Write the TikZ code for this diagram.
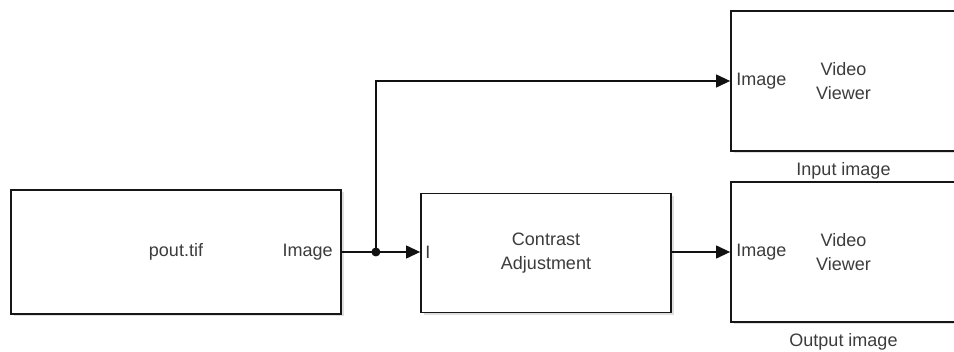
\documentclass[tikz,border=0pt]{standalone}
\usepackage{fontspec}
\setmainfont{Liberation Sans}
\usetikzlibrary{arrows.meta,positioning,shadows}
\definecolor{BText}{HTML}{3C3C3C}
\definecolor{BEdge}{HTML}{161616}
\definecolor{BWire}{HTML}{111111}

\begin{document}
\begin{tikzpicture}[x=1pt,y=-1pt,
    blk/.style={draw=BEdge,line width=1.8pt,fill=white,
      drop shadow={opacity=0.25,shadow xshift=2.5pt,shadow yshift=-2.5pt},
      font=\fontsize{18}{24.5}\selectfont,text=BText,align=center,inner sep=0pt},
    port/.style={font=\fontsize{18}{20}\selectfont,text=BText,inner sep=2pt},
    blkname/.style={font=\fontsize{18}{20}\selectfont,text=BText,inner sep=2pt},
    wire/.style={draw=BWire,line width=1.2pt},
    sig/.style={wire,-{Triangle[length=14pt,width=13pt]}}]
  \clip (0,0) rectangle (954,352);
  \useasboundingbox (0,0) rectangle (954,352);

  % blocks
  \node[blk,minimum width=330pt,minimum height=124pt] (src) at (176,252) {pout.tif};
  \node[blk,minimum width=250pt,minimum height=119pt] (ca) at (546,253) {Contrast\\Adjustment};
  \node[blk,minimum width=225pt,minimum height=140pt] (view1) at (843.5,81) {Video\\Viewer};
  \node[blk,minimum width=225pt,minimum height=140pt] (view2) at (843.5,252) {Video\\Viewer};

  % port labels
  \node[port,anchor=east] (srcout) at ([xshift=-7pt]src.east) {Image};
  \node[port,anchor=west] (cain) at ([xshift=3pt]ca.west |- src.east) {I};
  \foreach \v in {view1,view2}
    \node[port,anchor=west] (\v-in) at ([xshift=4pt]\v.west) {Image};

  % block names
  \node[blkname,below=8pt of view1] (name1) {Input image};
  \node[blkname,below=8pt of view2] (name2) {Output image};

  % signal lines
  \coordinate (split) at ([xshift=34pt]src.east);
  \draw[wire] (src.east) -- (split);
  \draw[sig] (split) -- (split -| ca.west);
  \draw[sig] (split) |- (view1.west);
  \draw[sig] (ca.east |- split) -- (view2.west);
  \fill[BWire] (split) circle (4.5pt);
\end{tikzpicture}
\end{document}
